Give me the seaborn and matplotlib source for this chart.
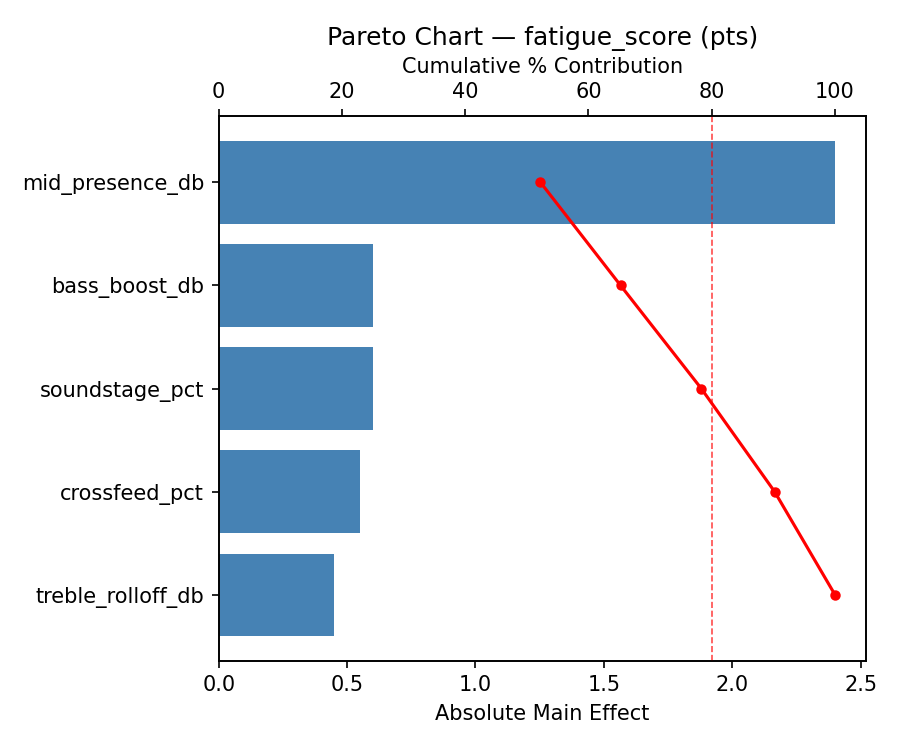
import matplotlib
matplotlib.use("Agg")
import matplotlib.pyplot as plt
import seaborn as sns
import numpy as np
import pandas as pd

factors = ["mid_presence_db", "bass_boost_db", "soundstage_pct", "crossfeed_pct", "treble_rolloff_db"]
effects = [2.40, 0.60, 0.60, 0.55, 0.45]
cum_pct = [52.2, 65.2, 78.3, 90.2, 100.0]

plt.rcParams['font.family'] = ['DejaVu Sans']

df = pd.DataFrame({"factor": factors, "effect": effects, "cum": cum_pct})

fig = plt.figure(figsize=(6, 5), dpi=150)
ax = fig.add_axes([0.243, 0.119, 0.719, 0.726])
sns.barplot(data=df, x="effect", y="factor", orient="h", color="steelblue",
            saturation=1, width=0.8, linewidth=0, ax=ax)
ax.set_xlim(0, max(effects) * 1.05)
ax.set_xlabel("Absolute Main Effect")
ax.set_ylabel("")

ax2 = ax.twiny()
ax2.plot(df["cum"], np.arange(len(factors)), color="red", marker="o", markersize=4, linewidth=1.5)
ax2.axvline(80, color="red", linestyle="--", linewidth=0.8, alpha=0.7)
ax2.set_xlim(0, 105)
ax2.set_xlabel("Cumulative % Contribution")
ax2.set_ylim(ax.get_ylim())
ax2.set_title("Pareto Chart — fatigue_score (pts)", fontsize=12)

fig.savefig("out.png", dpi=150)
